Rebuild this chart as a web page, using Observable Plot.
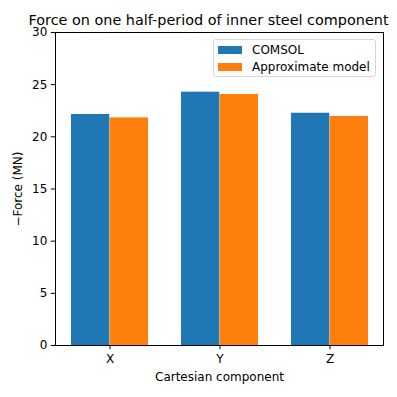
<!DOCTYPE html>
<html>
<head>
<meta charset="utf-8">
<script src="https://cdn.jsdelivr.net/npm/d3@7"></script>
<script src="https://cdn.jsdelivr.net/npm/@observablehq/plot@0.6"></script>
<style>
  html, body { margin: 0; padding: 0; background: #fff; }
  #wrap { position: relative; width: 397px; height: 397px; font-family: "DejaVu Sans", sans-serif; }
  #legend { position: absolute; left: 213px; top: 39px; width: 163px; height: 38px; box-sizing: border-box;
            border: 1px solid #d6d6d6; border-radius: 3px; background: rgba(255,255,255,0.8); font-size: 12px; color: #000; }
  .row { position: absolute; left: 4px; height: 14px; display: flex; align-items: center; }
  .sw { width: 24px; height: 8.4px; margin-right: 10px; }
</style>
</head>
<body>
<div id="wrap"></div>
<script>
const categories = ["X", "Y", "Z"];
const seriesNames = ["COMSOL", "Approximate model"];
const comsolValues = [22.14, 24.28, 22.26];
const approxValues = [21.82, 24.06, 21.95];
const yTicks = [0, 5, 10, 15, 20, 25, 30];
const colors = ["#1f77b4", "#ff7f0e"];
const titleText = "Force on one half-period of inner steel component";

const rows = [];
categories.forEach((c, i) => {
  rows.push({cat: c, series: seriesNames[0], value: comsolValues[i]});
  rows.push({cat: c, series: seriesNames[1], value: approxValues[i]});
});

const W = 397, H = 397, mL = 55, mR = 14, mT = 32, mB = 52;
const pIn = 0.3, pOut = 0.1355;
const step = (W - mL - mR) / (categories.length - pIn + 2 * pOut);
const bw = step * (1 - pIn);

const chart = Plot.plot({
  width: W, height: H,
  marginLeft: mL, marginRight: mR, marginTop: mT, marginBottom: mB,
  style: {fontFamily: "DejaVu Sans, sans-serif", fontSize: "12px", color: "#000", background: "#fff"},
  x: {domain: categories, paddingInner: pIn, paddingOuter: pOut, align: 0.5},
  y: {domain: [0, 30]},
  color: {domain: seriesNames, range: colors},
  marks: [
    Plot.barY(rows.filter(d => d.series === seriesNames[0]), {x: "cat", y: "value", fill: colors[0], insetRight: bw / 2, insetLeft: 0}),
    Plot.barY(rows.filter(d => d.series === seriesNames[1]), {x: "cat", y: "value", fill: colors[1], insetLeft: bw / 2, insetRight: 0}),
    Plot.frame({stroke: "#000", strokeWidth: 1}),
    Plot.axisY({ticks: yTicks, tickSize: 4.2, tickPadding: 4, fontSize: 12, stroke: "#000",
      label: "−Force (MN)", labelAnchor: "center", labelArrow: "none", labelOffset: 42}),
    Plot.axisX({tickSize: 4.2, tickPadding: 5, fontSize: 12, stroke: "#000",
      label: "Cartesian component", labelAnchor: "center", labelArrow: "none", labelOffset: 35}),
    Plot.text([titleText], {frameAnchor: "top", dy: -8, dx: -11, fontSize: 14.4, lineAnchor: "bottom", text: d => d, fill: "#000", fontFamily: "DejaVu Sans"})
  ]
});

const wrap = document.getElementById("wrap");
wrap.appendChild(chart);
const legend = document.createElement("div");
legend.id = "legend";
seriesNames.forEach((name, i) => {
  const r = document.createElement("div");
  r.className = "row";
  r.style.top = (3 + i * 17) + "px";
  const sw = document.createElement("span");
  sw.className = "sw";
  sw.style.background = colors[i];
  const t = document.createElement("span");
  t.textContent = name;
  r.appendChild(sw); r.appendChild(t);
  legend.appendChild(r);
});
wrap.appendChild(legend);
</script>
</body>
</html>
